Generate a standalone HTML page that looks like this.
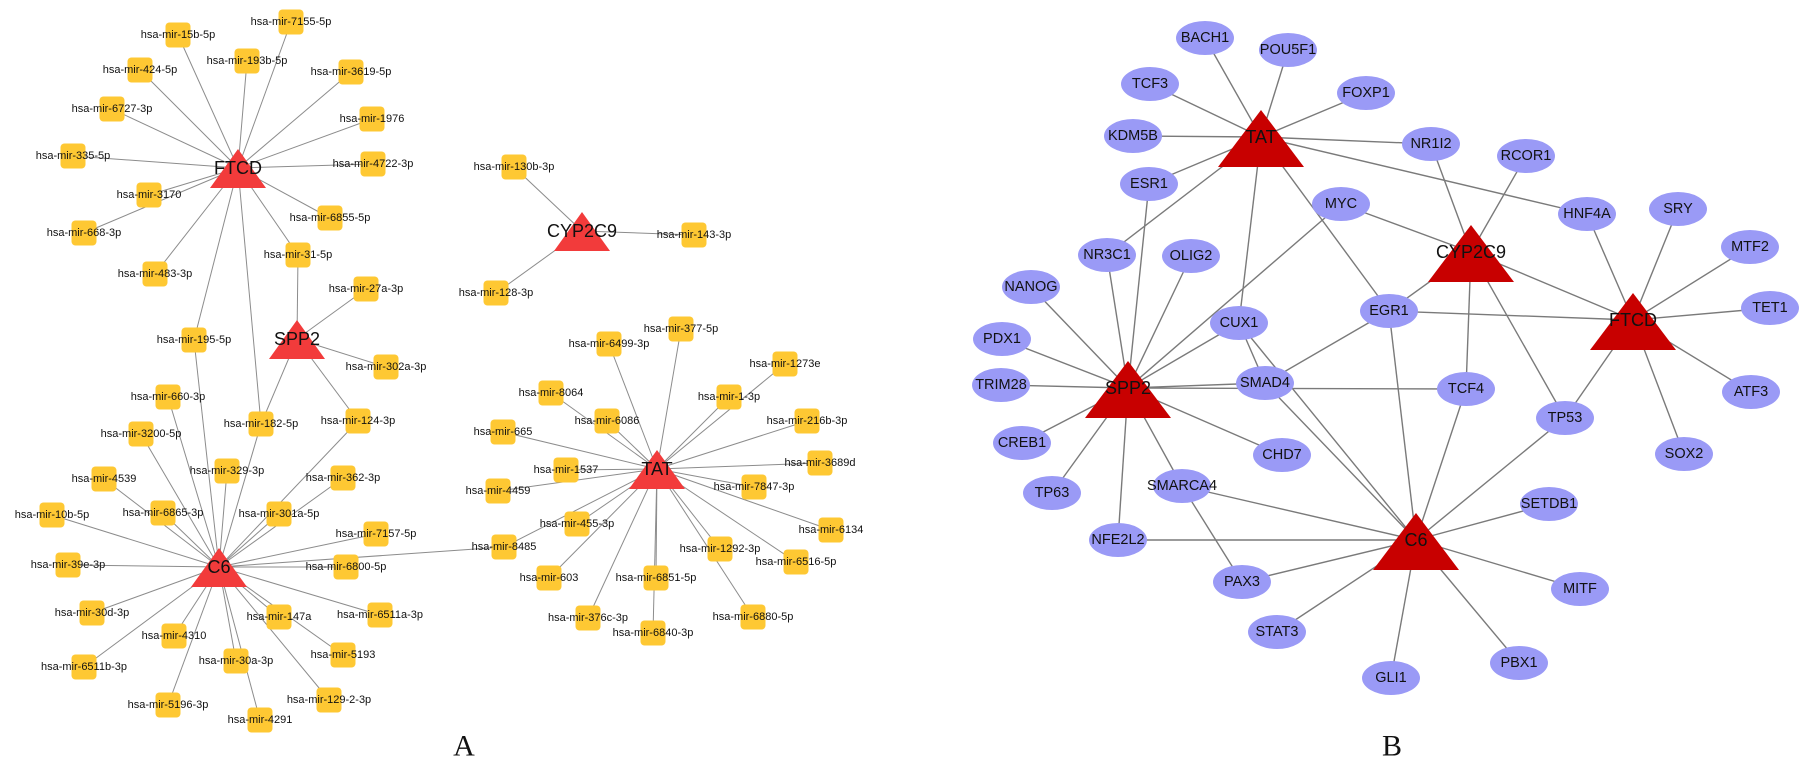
<!DOCTYPE html>
<html><head><meta charset="utf-8"><style>
html,body{margin:0;padding:0;background:#fff;}
svg{display:block;}
text{font-family:"Liberation Sans",Arial,sans-serif;text-anchor:middle;dominant-baseline:central;fill:#111;}
.m{font-size:11px;}
.h{font-size:18px;}
.g{font-size:14.5px;}
.H{font-size:18px;}
.cap{font-family:"Liberation Serif",serif;font-size:30px;}
</style></head><body>
<svg id="s" width="1808" height="763" viewBox="0 0 1808 763" xmlns="http://www.w3.org/2000/svg">
<g id="edges"></g>
<g id="nodes"></g>
<g id="labels">
<text class="m" x="178" y="35">hsa-mir-15b-5p</text>
<text class="m" x="291" y="22">hsa-mir-7155-5p</text>
<text class="m" x="247" y="61">hsa-mir-193b-5p</text>
<text class="m" x="140" y="70">hsa-mir-424-5p</text>
<text class="m" x="351" y="72">hsa-mir-3619-5p</text>
<text class="m" x="112" y="109">hsa-mir-6727-3p</text>
<text class="m" x="372" y="119">hsa-mir-1976</text>
<text class="m" x="73" y="156">hsa-mir-335-5p</text>
<text class="m" x="373" y="164">hsa-mir-4722-3p</text>
<text class="m" x="149" y="195">hsa-mir-3170</text>
<text class="m" x="84" y="233">hsa-mir-668-3p</text>
<text class="m" x="330" y="218">hsa-mir-6855-5p</text>
<text class="m" x="298" y="255">hsa-mir-31-5p</text>
<text class="m" x="155" y="274">hsa-mir-483-3p</text>
<text class="m" x="366" y="289">hsa-mir-27a-3p</text>
<text class="m" x="194" y="340">hsa-mir-195-5p</text>
<text class="m" x="386" y="367">hsa-mir-302a-3p</text>
<text class="m" x="168" y="397">hsa-mir-660-3p</text>
<text class="m" x="261" y="424">hsa-mir-182-5p</text>
<text class="m" x="358" y="421">hsa-mir-124-3p</text>
<text class="m" x="141" y="434">hsa-mir-3200-5p</text>
<text class="m" x="227" y="471">hsa-mir-329-3p</text>
<text class="m" x="104" y="479">hsa-mir-4539</text>
<text class="m" x="343" y="478">hsa-mir-362-3p</text>
<text class="m" x="52" y="515">hsa-mir-10b-5p</text>
<text class="m" x="163" y="513">hsa-mir-6865-3p</text>
<text class="m" x="279" y="514">hsa-mir-301a-5p</text>
<text class="m" x="376" y="534">hsa-mir-7157-5p</text>
<text class="m" x="68" y="565">hsa-mir-39e-3p</text>
<text class="m" x="346" y="567">hsa-mir-6800-5p</text>
<text class="m" x="92" y="613">hsa-mir-30d-3p</text>
<text class="m" x="279" y="617">hsa-mir-147a</text>
<text class="m" x="380" y="615">hsa-mir-6511a-3p</text>
<text class="m" x="174" y="636">hsa-mir-4310</text>
<text class="m" x="343" y="655">hsa-mir-5193</text>
<text class="m" x="236" y="661">hsa-mir-30a-3p</text>
<text class="m" x="84" y="667">hsa-mir-6511b-3p</text>
<text class="m" x="329" y="700">hsa-mir-129-2-3p</text>
<text class="m" x="168" y="705">hsa-mir-5196-3p</text>
<text class="m" x="260" y="720">hsa-mir-4291</text>
<text class="m" x="514" y="167">hsa-mir-130b-3p</text>
<text class="m" x="694" y="235">hsa-mir-143-3p</text>
<text class="m" x="496" y="293">hsa-mir-128-3p</text>
<text class="m" x="681" y="329">hsa-mir-377-5p</text>
<text class="m" x="609" y="344">hsa-mir-6499-3p</text>
<text class="m" x="785" y="364">hsa-mir-1273e</text>
<text class="m" x="729" y="397">hsa-mir-1-3p</text>
<text class="m" x="551" y="393">hsa-mir-8064</text>
<text class="m" x="607" y="421">hsa-mir-6086</text>
<text class="m" x="807" y="421">hsa-mir-216b-3p</text>
<text class="m" x="503" y="432">hsa-mir-665</text>
<text class="m" x="820" y="463">hsa-mir-3689d</text>
<text class="m" x="566" y="470">hsa-mir-1537</text>
<text class="m" x="498" y="491">hsa-mir-4459</text>
<text class="m" x="754" y="487">hsa-mir-7847-3p</text>
<text class="m" x="577" y="524">hsa-mir-455-3p</text>
<text class="m" x="831" y="530">hsa-mir-6134</text>
<text class="m" x="504" y="547">hsa-mir-8485</text>
<text class="m" x="720" y="549">hsa-mir-1292-3p</text>
<text class="m" x="796" y="562">hsa-mir-6516-5p</text>
<text class="m" x="549" y="578">hsa-mir-603</text>
<text class="m" x="656" y="578">hsa-mir-6851-5p</text>
<text class="m" x="588" y="618">hsa-mir-376c-3p</text>
<text class="m" x="753" y="617">hsa-mir-6880-5p</text>
<text class="m" x="653" y="633">hsa-mir-6840-3p</text>
<text class="h" x="238" y="168">FTCD</text>
<text class="h" x="297" y="339">SPP2</text>
<text class="h" x="219" y="567">C6</text>
<text class="h" x="582" y="231">CYP2C9</text>
<text class="h" x="657" y="469">TAT</text>

<text class="g" x="1205" y="38">BACH1</text>
<text class="g" x="1288" y="50">POU5F1</text>
<text class="g" x="1150" y="84">TCF3</text>
<text class="g" x="1366" y="93">FOXP1</text>
<text class="g" x="1133" y="136">KDM5B</text>
<text class="g" x="1149" y="184">ESR1</text>
<text class="g" x="1341" y="204">MYC</text>
<text class="g" x="1107" y="255">NR3C1</text>
<text class="g" x="1191" y="256">OLIG2</text>
<text class="g" x="1031" y="287">NANOG</text>
<text class="g" x="1239" y="323">CUX1</text>
<text class="g" x="1389" y="311">EGR1</text>
<text class="g" x="1002" y="339">PDX1</text>
<text class="g" x="1431" y="144">NR1I2</text>
<text class="g" x="1526" y="156">RCOR1</text>
<text class="g" x="1587" y="214">HNF4A</text>
<text class="g" x="1678" y="209">SRY</text>
<text class="g" x="1750" y="247">MTF2</text>
<text class="g" x="1770" y="308">TET1</text>
<text class="g" x="1001" y="385">TRIM28</text>
<text class="g" x="1265" y="383">SMAD4</text>
<text class="g" x="1022" y="443">CREB1</text>
<text class="g" x="1282" y="455">CHD7</text>
<text class="g" x="1052" y="493">TP63</text>
<text class="g" x="1182" y="486">SMARCA4</text>
<text class="g" x="1118" y="540">NFE2L2</text>
<text class="g" x="1242" y="582">PAX3</text>
<text class="g" x="1277" y="632">STAT3</text>
<text class="g" x="1391" y="678">GLI1</text>
<text class="g" x="1466" y="389">TCF4</text>
<text class="g" x="1565" y="418">TP53</text>
<text class="g" x="1751" y="392">ATF3</text>
<text class="g" x="1684" y="454">SOX2</text>
<text class="g" x="1549" y="504">SETDB1</text>
<text class="g" x="1580" y="589">MITF</text>
<text class="g" x="1519" y="663">PBX1</text>
<text class="H" x="1261" y="137">TAT</text>
<text class="H" x="1471" y="252">CYP2C9</text>
<text class="H" x="1633" y="320">FTCD</text>
<text class="H" x="1128" y="388">SPP2</text>
<text class="H" x="1416" y="540">C6</text>

<text class="cap" x="464" y="746">A</text>
<text class="cap" x="1392" y="746">B</text>
</g>
</svg>
<script>
(function(){
var NS="http://www.w3.org/2000/svg";
var E=document.getElementById("edges"),N=document.getElementById("nodes");
function mk(t,a,p){var e=document.createElementNS(NS,t);for(var k in a)e.setAttribute(k,a[k]);p.appendChild(e);return e;}
var A={},Ah={},B={};
[].forEach.call(document.querySelectorAll("text.m"),function(t){A[t.textContent.replace("hsa-mir-","")]=[+t.getAttribute("x"),+t.getAttribute("y")];});
[].forEach.call(document.querySelectorAll("text.h"),function(t){Ah[t.textContent]=[+t.getAttribute("x"),+t.getAttribute("y")];});
var Bh={};
[].forEach.call(document.querySelectorAll("text.g"),function(t){B[t.textContent]=[+t.getAttribute("x"),+t.getAttribute("y")];});
[].forEach.call(document.querySelectorAll("text.H"),function(t){Bh[t.textContent]=[+t.getAttribute("x"),+t.getAttribute("y")];B[t.textContent]=Bh[t.textContent];});
function line(p,q,c,w){mk("line",{x1:p[0],y1:p[1],x2:q[0],y2:q[1],stroke:c,"stroke-width":w},E);}
var ea={
FTCD:["15b-5p","7155-5p","193b-5p","424-5p","3619-5p","6727-3p","1976","335-5p","4722-3p","3170","668-3p","6855-5p","31-5p","483-3p","195-5p","182-5p"],
SPP2:["31-5p","27a-3p","302a-3p","182-5p","124-3p"],
C6:["195-5p","660-3p","182-5p","3200-5p","329-3p","4539","124-3p","362-3p","10b-5p","6865-3p","301a-5p","7157-5p","39e-3p","6800-5p","30d-3p","147a","6511a-3p","4310","5193","30a-3p","6511b-3p","129-2-3p","5196-3p","4291","8485"],
CYP2C9:["130b-3p","143-3p","128-3p"],
TAT:["377-5p","6499-3p","1273e","1-3p","8064","6086","216b-3p","665","3689d","1537","4459","7847-3p","455-3p","6134","8485","1292-3p","6516-5p","603","6851-5p","376c-3p","6880-5p","6840-3p"]};
for(var h in ea)ea[h].forEach(function(n){line(Ah[h],A[n],"#8c8c8c",1);});
var eb={
TAT:["BACH1","POU5F1","TCF3","FOXP1","KDM5B","ESR1","NR3C1","CUX1","EGR1","NR1I2","HNF4A"],
CYP2C9:["NR1I2","RCOR1","MYC","EGR1","FTCD","TCF4","TP53"],
FTCD:["HNF4A","SRY","MTF2","TET1","ATF3","SOX2","TP53","EGR1"],
SPP2:["NANOG","PDX1","TRIM28","CREB1","TP63","NFE2L2","SMARCA4","CHD7","SMAD4","TCF4","ESR1","NR3C1","OLIG2","CUX1","MYC"],
C6:["SMAD4","CUX1","EGR1","TCF4","TP53","SETDB1","MITF","PBX1","GLI1","STAT3","PAX3","SMARCA4","NFE2L2"],
SMAD4:["EGR1"],SMARCA4:["PAX3"],CUX1:["SMAD4"]};
for(var h2 in eb)eb[h2].forEach(function(n){line(B[h2],B[n],"#7a7a7a",1.4);});
for(var k in A){var p=A[k];mk("rect",{x:p[0]-12.5,y:p[1]-12.5,width:25,height:25,rx:4,fill:"#fec833"},N);}
for(var k2 in Ah){var c=Ah[k2];mk("polygon",{points:(c[0])+","+(c[1]-19)+" "+(c[0]-28)+","+(c[1]+20)+" "+(c[0]+28)+","+(c[1]+20),fill:"#f23b3b"},N);}
document.querySelectorAll("text.g").forEach(function(t){var p=B[t.textContent];mk("ellipse",{cx:p[0],cy:p[1],rx:29,ry:17,fill:"#9a9af6"},N);});
for(var k3 in Bh){var d=Bh[k3];mk("polygon",{points:(d[0])+","+(d[1]-27)+" "+(d[0]-43)+","+(d[1]+30)+" "+(d[0]+43)+","+(d[1]+30),fill:"#c80000"},N);}
})();
</script>
</body></html>
